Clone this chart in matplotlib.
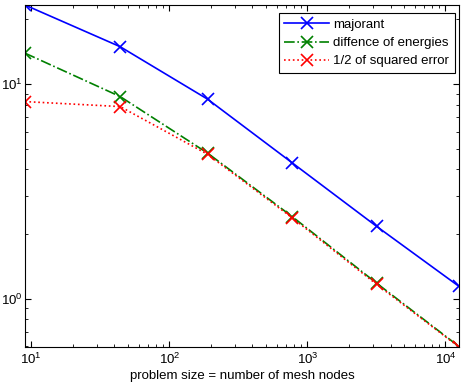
import matplotlib
matplotlib.use('Agg')
import matplotlib.pyplot as plt

# problem size (mesh nodes) and error quantities
nodes = [9, 44, 189, 775, 3170, 12530]
majorant = [23.3, 14.9, 8.49, 4.29, 2.17, 1.14]
energy_diff = [13.9, 8.73, 4.76, 2.41, 1.18, 0.598]
half_sq_error = [8.27, 7.84, 4.70, 2.38, 1.165, 0.595]

plt.rcParams['font.family'] = ['Liberation Sans', 'DejaVu Sans']
plt.rcParams['font.size'] = 9.5
plt.rcParams['mathtext.fontset'] = 'custom'
plt.rcParams['mathtext.rm'] = 'Liberation Sans'
plt.rcParams['mathtext.it'] = 'Liberation Sans'

fig = plt.figure(figsize=(4.66, 3.89), dpi=100)
ax = fig.add_axes([25 / 466, 1 - 347 / 389, 434 / 466, 342 / 389])

style = dict(marker='x', markersize=9, markeredgewidth=1.2, linewidth=1.2)
ax.loglog(nodes, majorant, '-', color='#0000ff', label='majorant', **style)
ax.loglog(nodes, energy_diff, '-.', color='#008000', label='diffence of energies', **style)
ax.loglog(nodes, half_sq_error, ':', color='#ff0000', label='1/2 of squared error', **style)

ax.set_xlim(min(nodes), max(nodes))
ax.set_ylim(min(half_sq_error), max(majorant))
ax.set_xlabel('problem size = number of mesh nodes', labelpad=2)

ax.tick_params(which='both', direction='in', top=True, right=True)
ax.tick_params(which='major', length=4)
ax.tick_params(which='minor', length=2)
ax.tick_params(axis='y', pad=2)
for s in ax.spines.values():
    s.set_linewidth(0.8)

leg = ax.legend(loc='upper right', bbox_to_anchor=(0.991, 0.977),
                borderaxespad=0, handlelength=3.4, fancybox=False,
                edgecolor='black', framealpha=1,
                labelspacing=0.45, handletextpad=0.3, borderpad=0.45)
leg.get_frame().set_linewidth(0.8)

plt.savefig('out.png', dpi=100)
plt.close()
